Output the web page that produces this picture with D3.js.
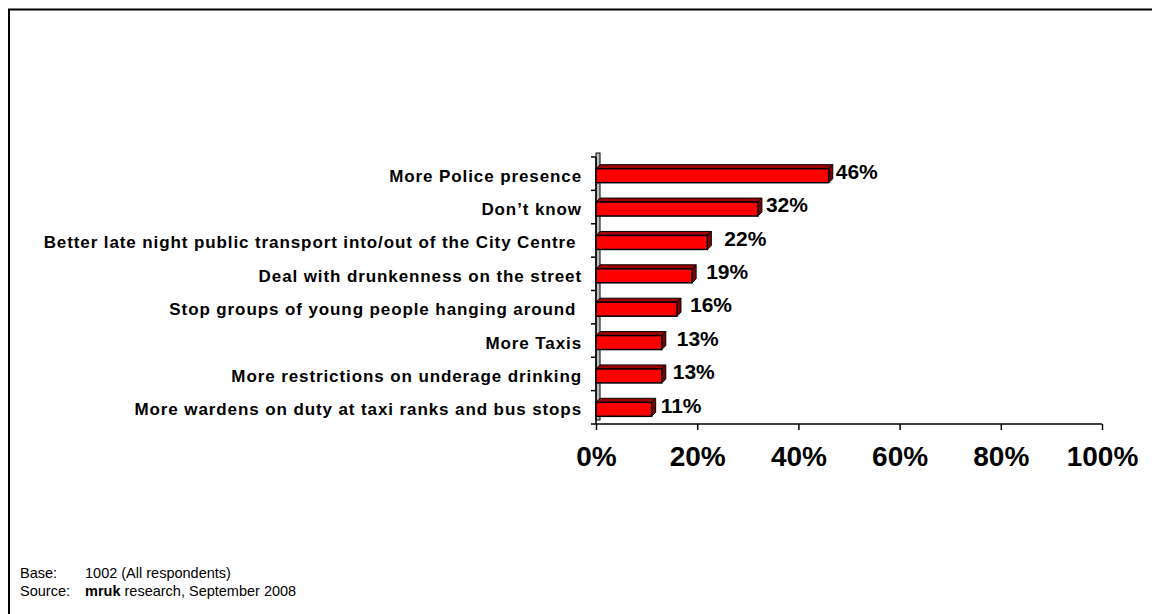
<!DOCTYPE html>
<html>
<head>
<meta charset="utf-8">
<script src="https://cdn.jsdelivr.net/npm/d3@7"></script>
<style>
  body { margin: 0; background: #fff; }
  text { font-family: Arial, "Liberation Sans", sans-serif; }
</style>
</head>
<body>
<svg id="chart" width="1152" height="614"></svg>
<script>
// 1. Data
const categories = [
  "More Police presence",
  "Don\u2019t know",
  "Better late night public transport into/out of the City Centre ",
  "Deal with drunkenness on the street",
  "Stop groups of young people hanging around ",
  "More Taxis",
  "More restrictions on underage drinking",
  "More wardens on duty at taxi ranks and bus stops",
]
const values = [46, 32, 22, 19, 16, 13, 13, 11]
const xTicks = [0, 20, 40, 60, 80, 100]
const footerLabels = ["Base:", "Source:"]
const footerTexts = ["1002 (All respondents)", "research, September 2008"]

// label nudges, roughly as excel placed them
const labelNudge = [1, 2, 11, 8, 7, 9, 5, 3]

// 2. Dimensions
const dimensions = {
  width: 1152,
  height: 614,
  left: 596,
  right: 1102,
  top: 157,
  bottom: 424,
  depth: 4,
}

const svg = d3.select("#chart")

// frame
svg.append("rect")
    .attr("x", 9)
    .attr("y", 9.5)
    .attr("width", 1200)
    .attr("height", 700)
    .attr("fill", "none")
    .attr("stroke", "#000")
    .attr("stroke-width", 2)

// 3. Scales
const xScale = d3.scaleLinear()
  .domain([0, 100])
  .range([dimensions.left, dimensions.right])

const yScale = d3.scaleBand()
  .domain(categories)
  .range([dimensions.top, dimensions.bottom])

const barH = 14
const d = dimensions.depth

// 4. Wall (3d back of the y axis)
svg.append("rect")
    .attr("x", dimensions.left)
    .attr("y", dimensions.top - d)
    .attr("width", d)
    .attr("height", dimensions.bottom - dimensions.top)
    .attr("fill", "#c0c0c0")
    .attr("stroke", "#000")
    .attr("stroke-width", 1)

// y axis ticks
svg.append("g")
  .selectAll("line")
  .data(d3.range(categories.length + 1))
  .join("line")
    .attr("x1", dimensions.left - 5)
    .attr("x2", dimensions.left)
    .attr("y1", i => dimensions.top + i * yScale.step())
    .attr("y2", i => dimensions.top + i * yScale.step())
    .attr("stroke", "#000")
    .attr("stroke-width", 1.5)

svg.append("line")
    .attr("x1", dimensions.left)
    .attr("x2", dimensions.left)
    .attr("y1", dimensions.top)
    .attr("y2", dimensions.bottom)
    .attr("stroke", "#000")
    .attr("stroke-width", 1.5)

// x axis
const xAxis = d3.axisBottom(xScale)
  .tickValues(xTicks)
  .tickFormat(v => v + "%")
  .tickSize(6)
  .tickPadding(16)

const xAxisG = svg.append("g")
    .attr("transform", `translate(0, ${dimensions.bottom})`)
    .call(xAxis)

xAxisG.select(".domain")
    .attr("stroke", "#000")
    .attr("stroke-width", 1.5)
    .attr("d", `M${dimensions.left},0H${dimensions.right}`)
xAxisG.selectAll(".tick line")
    .attr("stroke", "#000")
    .attr("stroke-width", 1.5)
xAxisG.selectAll(".tick text")
    .attr("font-size", 28)
    .attr("font-weight", "bold")
    .attr("fill", "#000")
    .style("font-family", "Arial, 'Liberation Sans', sans-serif")

// 5. Bars
const bars = svg.append("g")
  .selectAll("g")
  .data(values)
  .join("g")

const barCenter = i => yScale(categories[i]) + yScale.bandwidth() / 2
const barY = (v, i) => barCenter(i) - barH / 2 + 2

// top face
bars.append("polygon")
    .attr("points", (v, i) => {
      const y = barY(v, i), x0 = xScale(0), x1 = xScale(v)
      return [[x0, y], [x0 + d, y - d], [x1 + d, y - d], [x1, y]].join(" ")
    })
    .attr("fill", "#a00000")
    .attr("stroke", "#000")
    .attr("stroke-width", 1)

// side face
bars.append("polygon")
    .attr("points", (v, i) => {
      const y = barY(v, i), x1 = xScale(v)
      return [[x1, y], [x1 + d, y - d], [x1 + d, y + barH - d], [x1, y + barH]].join(" ")
    })
    .attr("fill", "#800000")
    .attr("stroke", "#000")
    .attr("stroke-width", 1)

// front face
bars.append("rect")
    .attr("x", xScale(0))
    .attr("y", (v, i) => barY(v, i))
    .attr("width", v => xScale(v) - xScale(0))
    .attr("height", barH)
    .attr("fill", "#ff0000")
    .attr("stroke", "#000")
    .attr("stroke-width", 1.5)

// value labels
bars.append("text")
    .attr("x", (v, i) => xScale(v) + d + 2 + labelNudge[i])
    .attr("y", (v, i) => barCenter(i))
    .attr("dy", "0.25em")
    .attr("font-size", 21)
    .attr("font-weight", "bold")
    .text(v => v + "%")

// category labels
svg.append("g")
  .selectAll("text")
  .data(categories)
  .join("text")
    .attr("x", dimensions.left - 14)
    .attr("y", c => yScale(c) + yScale.bandwidth() / 2 + 2)
    .attr("dy", "0.35em")
    .attr("text-anchor", "end")
    .attr("font-size", 17)
    .attr("font-weight", "bold")
    .attr("letter-spacing", 0.9)
    .style("white-space", "pre")
    .text(c => c)

// 6. Footer
const footer = svg.append("g")
footerLabels.forEach((lab, i) => {
  const y = 578 + i * 18
  footer.append("text")
      .attr("x", 20)
      .attr("y", y)
      .attr("font-size", 14.5)
      .text(lab)
  const t = footer.append("text")
      .attr("x", 85)
      .attr("y", y)
      .attr("font-size", 14.5)
  if (i === 1) {
    t.append("tspan").attr("font-weight", "bold").text("mruk")
    t.append("tspan").text(" " + footerTexts[i])
  } else {
    t.text(footerTexts[i])
  }
})
</script>
</body>
</html>
